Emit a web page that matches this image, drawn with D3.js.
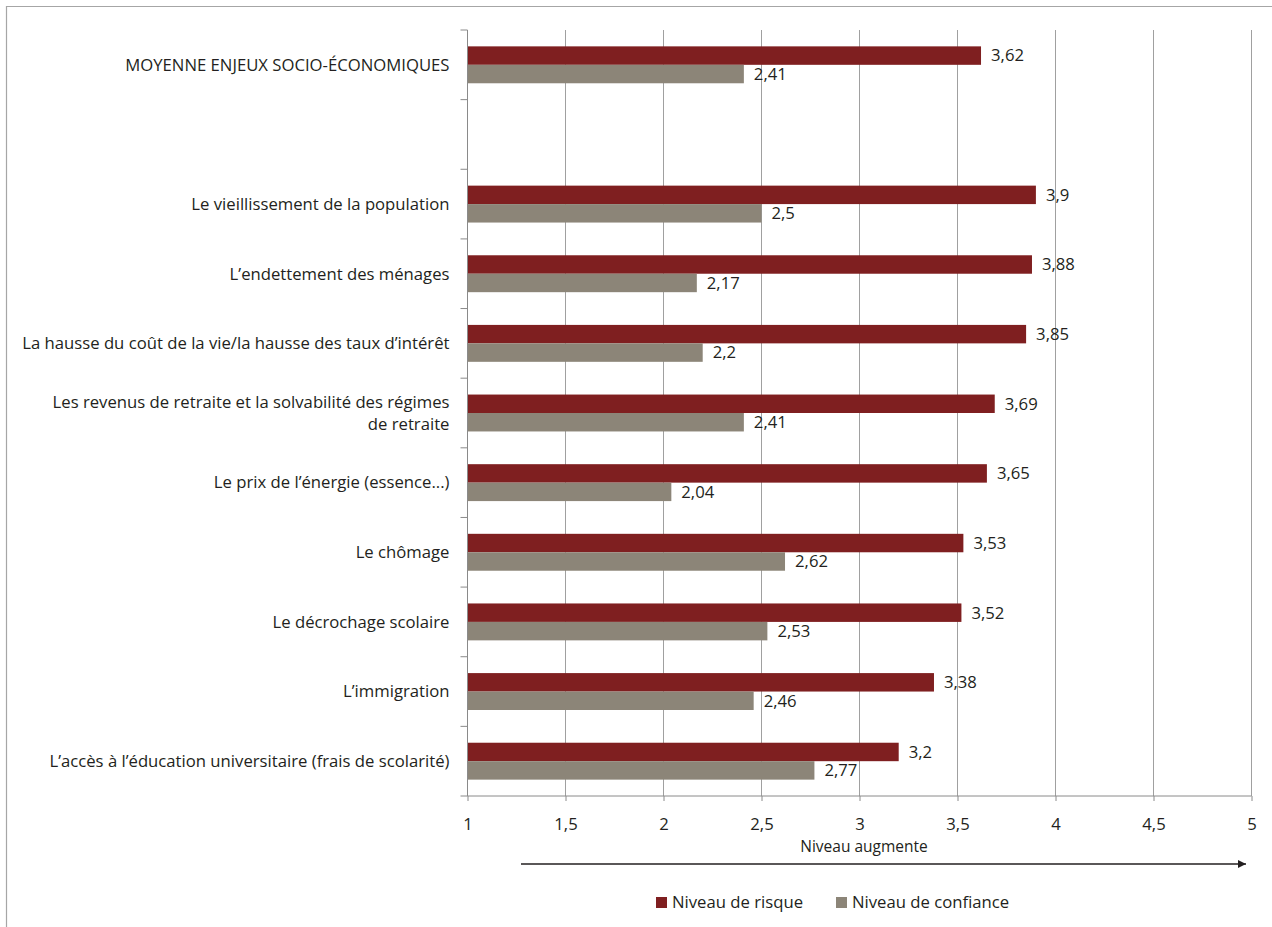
<!DOCTYPE html>
<html>
<head>
<meta charset="utf-8">
<script src="https://cdn.jsdelivr.net/npm/d3@7"></script>
<style>
  html, body { margin: 0; padding: 0; background: #fff; }
  svg { display: block; }
  text { font-family: "Open Sans", "Noto Sans", sans-serif; fill: #231f20; }
</style>
</head>
<body>
<svg id="chart" width="1272" height="927"></svg>
<script>
// Categories, top to bottom (an empty string leaves a gap row)
const categories = [
  "MOYENNE ENJEUX SOCIO-ÉCONOMIQUES",
  "",
  "Le vieillissement de la population",
  "L’endettement des ménages",
  "La hausse du coût de la vie/la hausse des taux d’intérêt",
  "Les revenus de retraite et la solvabilité des régimes\nde retraite",
  "Le prix de l’énergie (essence...)",
  "Le chômage",
  "Le décrochage scolaire",
  "L’immigration",
  "L’accès à l’éducation universitaire (frais de scolarité)"
];
const risque    = [3.62, null, 3.9, 3.88, 3.85, 3.69, 3.65, 3.53, 3.52, 3.38, 3.2];
const confiance = [2.41, null, 2.5, 2.17, 2.2, 2.41, 2.04, 2.62, 2.53, 2.46, 2.77];
const seriesNames = ["Niveau de risque", "Niveau de confiance"];
const xTicks = [1, 1.5, 2, 2.5, 3, 3.5, 4, 4.5, 5];
const axisTitle = "Niveau augmente";

const colors = ["#7f1f20", "#8c8578"];
const fmt = v => String(v).replace(".", ",");
const fs = 16.7;

const svg = d3.select("#chart");

// outer frame
svg.append("path")
  .attr("d", "M6.5,927 V6.5 H1272")
  .attr("fill", "none").attr("stroke", "#a6a6a6").attr("stroke-width", 1.2);

const plot = { left: 467.5, right: 1251.5, top: 30, bottom: 796 };

const x = d3.scaleLinear().domain([1, 5]).range([plot.left, plot.right]);
const y = d3.scaleBand().domain(d3.range(categories.length)).range([plot.top, plot.bottom]).paddingInner(0).paddingOuter(0);
const inner = 0.235;
const barH = y.bandwidth() * (1 - 2 * inner) / 2;

// vertical gridlines
svg.append("g").selectAll("line")
  .data(xTicks.slice(1))
  .join("line")
  .attr("x1", d => x(d)).attr("x2", d => x(d))
  .attr("y1", plot.top).attr("y2", plot.bottom)
  .attr("stroke", "#a0a0a0").attr("stroke-width", 1);

// bars and value labels
const rows = d3.range(categories.length).filter(i => risque[i] != null);
const series = [risque, confiance];
series.forEach((vals, s) => {
  const g = svg.append("g");
  g.selectAll("rect")
    .data(rows)
    .join("rect")
    .attr("x", x(1))
    .attr("y", i => y(i) + y.bandwidth() * inner + s * barH)
    .attr("width", i => x(vals[i]) - x(1))
    .attr("height", barH)
    .attr("fill", colors[s]);
  g.selectAll("text")
    .data(rows)
    .join("text")
    .attr("x", i => x(vals[i]) + 10)
    .attr("y", i => y(i) + y.bandwidth() * inner + s * barH + barH / 2)
    .attr("dy", "0.35em")
    .attr("font-size", fs)
    .text(i => fmt(vals[i]));
});

// left axis: line with ticks at band boundaries
const gy = svg.append("g").attr("transform", `translate(${plot.left},0)`);
gy.append("line").attr("x1", 0).attr("x2", 0).attr("y1", plot.top).attr("y2", plot.bottom).attr("stroke", "#8a8a8a");
gy.selectAll("line.bound")
  .data(d3.range(categories.length + 1))
  .join("line")
  .attr("class", "bound")
  .attr("x1", -7).attr("x2", 0)
  .attr("y1", i => i < categories.length ? y(i) : plot.bottom)
  .attr("y2", i => i < categories.length ? y(i) : plot.bottom)
  .attr("stroke", "#8a8a8a");

// category labels
const labels = svg.append("g");
categories.forEach((c, i) => {
  if (!c) return;
  const lines = c.split("\n");
  const cy = y(i) + y.bandwidth() / 2;
  const lh = 22;
  const t = labels.append("text")
    .attr("text-anchor", "end")
    .attr("font-size", fs);
  lines.forEach((l, k) => {
    t.append("tspan")
      .attr("x", plot.left - 18)
      .attr("y", cy + (k - (lines.length - 1) / 2) * lh)
      .attr("dy", "0.35em")
      .text(l);
  });
});

// bottom axis
const xAxis = d3.axisBottom(x).tickValues(xTicks).tickSize(5).tickFormat(fmt);
const gx = svg.append("g").attr("transform", `translate(0,${plot.bottom})`).call(xAxis);
gx.select(".domain").attr("stroke", "#8a8a8a").attr("d", `M${plot.left},0H${plot.right}`);
gx.selectAll(".tick line").attr("stroke", "#8a8a8a");
gx.selectAll(".tick text")
  .attr("font-family", "'Open Sans', 'Noto Sans', sans-serif")
  .attr("font-size", fs).attr("fill", "#231f20").attr("y", 22);

// axis title and arrow
svg.append("text")
  .attr("x", 864).attr("y", 852)
  .attr("text-anchor", "middle")
  .attr("font-size", 15.5)
  .text(axisTitle);

svg.append("defs").append("marker")
  .attr("id", "arrow")
  .attr("viewBox", "0 0 10 10")
  .attr("refX", 10).attr("refY", 5)
  .attr("markerWidth", 10).attr("markerHeight", 8)
  .attr("markerUnits", "userSpaceOnUse")
  .attr("orient", "auto")
  .append("path").attr("d", "M0,0 L10,5 L0,10 Z").attr("fill", "#231f20");

svg.append("line")
  .attr("x1", 521).attr("x2", 1246)
  .attr("y1", 864).attr("y2", 864)
  .attr("stroke", "#231f20").attr("stroke-width", 1.6)
  .attr("marker-end", "url(#arrow)");

// legend
const legendX = [656, 836];
const lg = svg.append("g");
seriesNames.forEach((n, s) => {
  lg.append("rect")
    .attr("x", legendX[s]).attr("y", 897)
    .attr("width", 11).attr("height", 11)
    .attr("fill", colors[s]);
  lg.append("text")
    .attr("x", legendX[s] + 16).attr("y", 902.5)
    .attr("dy", "0.35em")
    .attr("font-size", fs)
    .text(n);
});
</script>
</body>
</html>
